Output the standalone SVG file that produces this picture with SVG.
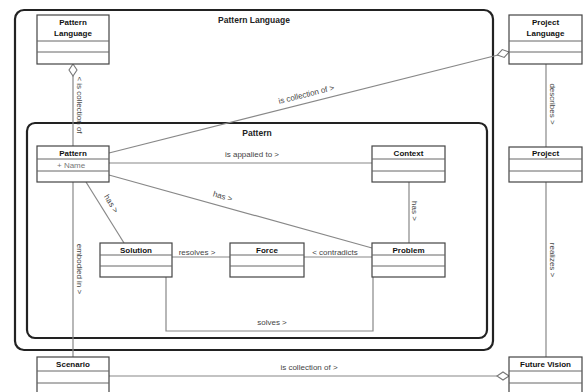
<svg xmlns="http://www.w3.org/2000/svg" width="586" height="392" viewBox="0 0 586 392">
<style>
.frame{fill:none;stroke:#222;stroke-width:2.2}
.box rect{fill:#fff;stroke:#444;stroke-width:1.2}
.box line{stroke:#666;stroke-width:1}
.t{font-family:"Liberation Sans",Arial,sans-serif;font-size:8px;font-weight:bold;fill:#111;text-anchor:middle}
.a{font-family:"Liberation Sans",Arial,sans-serif;font-size:8px;fill:#777}
.c{fill:none;stroke:#888;stroke-width:1.2}
.d{fill:#fff;stroke:#777;stroke-width:1.1}
.l{font-family:"Liberation Sans",Arial,sans-serif;font-size:8px;fill:#444;text-anchor:middle}
.ft{font-family:"Liberation Sans",Arial,sans-serif;font-size:8.5px;font-weight:bold;fill:#222;text-anchor:middle}
</style>
<rect width="586" height="392" fill="#fff"/>
<g id="frame-pattern-language">
<rect class="frame" x="15" y="10" width="478" height="340" rx="9"/>
<text class="ft" x="254" y="23">Pattern Language</text>
</g>
<g id="frame-pattern">
<rect class="frame" x="27" y="123" width="460" height="215" rx="8"/>
<text class="ft" x="257" y="136">Pattern</text>
</g>
<g id="connectors">
<line class="c" x1="73" y1="76" x2="73" y2="146"/>
<polygon class="d" points="73,64 77,70 73,76 69,70"/>
<text class="l" x="77" y="105" transform="rotate(90 77 105)">&lt; is collection of</text>
<line class="c" x1="73" y1="182" x2="73" y2="357"/>
<text class="l" x="77" y="269" transform="rotate(90 77 269)">embodied in &gt;</text>
<line class="c" x1="109" y1="153" x2="498" y2="55"/>
<polygon class="d" points="509,52 502.2,49.6 497.4,54.9 504.2,57.4"/>
<text class="l" x="307" y="97" transform="rotate(-14.2 307 97)">is collection of &gt;</text>
<line class="c" x1="109" y1="163" x2="372" y2="163"/>
<text class="l" x="252" y="157">is appalied to &gt;</text>
<line class="c" x1="109" y1="175" x2="372" y2="248"/>
<text class="l" x="222" y="199" transform="rotate(15.5 222 199)">has &gt;</text>
<line class="c" x1="86" y1="182" x2="124" y2="243"/>
<text class="l" x="109" y="205" transform="rotate(58 109 205)">has &gt;</text>
<line class="c" x1="409" y1="182" x2="409" y2="243"/>
<text class="l" x="412" y="211" transform="rotate(90 412 211)">has &gt;</text>
<line class="c" x1="172" y1="257" x2="230" y2="257"/>
<text class="l" x="197" y="255">resolves &gt;</text>
<line class="c" x1="304" y1="257" x2="372" y2="257"/>
<text class="l" x="335" y="255">&lt; contradicts</text>
<polyline class="c" points="166,277 166,331 373,331 373,277"/>
<text class="l" x="272" y="325">solves &gt;</text>
<line class="c" x1="546" y1="64" x2="546" y2="147"/>
<text class="l" x="550" y="104" transform="rotate(90 550 104)">describes &gt;</text>
<line class="c" x1="546" y1="182" x2="546" y2="357"/>
<text class="l" x="550" y="260" transform="rotate(90 550 260)">realizes &gt;</text>
<line class="c" x1="109" y1="376" x2="497" y2="376"/>
<polygon class="d" points="509,376 503,372 497,376 503,380"/>
<text class="l" x="309" y="370">is collection of &gt;</text>
</g>
<g id="node-pattern-language" class="box">
<rect x="37" y="15" width="72" height="49"/>
<line x1="37" y1="41" x2="109" y2="41"/><line x1="37" y1="52" x2="109" y2="52"/>
<text class="t" x="73" y="25">Pattern</text><text class="t" x="73" y="36">Language</text>
</g>
<g id="node-project-language" class="box">
<rect x="509" y="15" width="73" height="49"/>
<line x1="509" y1="41" x2="582" y2="41"/><line x1="509" y1="52" x2="582" y2="52"/>
<text class="t" x="545.5" y="25">Project</text><text class="t" x="545.5" y="36">Language</text>
</g>
<g id="node-pattern" class="box">
<rect x="37" y="146" width="72" height="36"/>
<line x1="37" y1="159" x2="109" y2="159"/><line x1="37" y1="171" x2="109" y2="171"/>
<text class="t" x="73" y="156">Pattern</text>
<text class="a" x="57" y="168">+ Name</text>
</g>
<g id="node-context" class="box">
<rect x="372" y="146" width="73" height="36"/>
<line x1="372" y1="159" x2="445" y2="159"/><line x1="372" y1="171" x2="445" y2="171"/>
<text class="t" x="408.5" y="156">Context</text>
</g>
<g id="node-project" class="box">
<rect x="509" y="147" width="73" height="35"/>
<line x1="509" y1="159" x2="582" y2="159"/><line x1="509" y1="171" x2="582" y2="171"/>
<text class="t" x="545.5" y="156">Project</text>
</g>
<g id="node-solution" class="box">
<rect x="100" y="243" width="72" height="34"/>
<line x1="100" y1="255" x2="172" y2="255"/><line x1="100" y1="266" x2="172" y2="266"/>
<text class="t" x="136" y="253">Solution</text>
</g>
<g id="node-force" class="box">
<rect x="230" y="243" width="74" height="34"/>
<line x1="230" y1="255" x2="304" y2="255"/><line x1="230" y1="266" x2="304" y2="266"/>
<text class="t" x="267" y="253">Force</text>
</g>
<g id="node-problem" class="box">
<rect x="372" y="243" width="73" height="34"/>
<line x1="372" y1="255" x2="445" y2="255"/><line x1="372" y1="266" x2="445" y2="266"/>
<text class="t" x="408.5" y="253">Problem</text>
</g>
<g id="node-scenario" class="box">
<rect x="37" y="357" width="72" height="40"/>
<line x1="37" y1="371" x2="109" y2="371"/><line x1="37" y1="383" x2="109" y2="383"/>
<text class="t" x="73" y="367">Scenario</text>
</g>
<g id="node-future-vision" class="box">
<rect x="509" y="357" width="73" height="40"/>
<line x1="509" y1="371" x2="582" y2="371"/><line x1="509" y1="383" x2="582" y2="383"/>
<text class="t" x="545.5" y="367">Future Vision</text>
</g>
</svg>
